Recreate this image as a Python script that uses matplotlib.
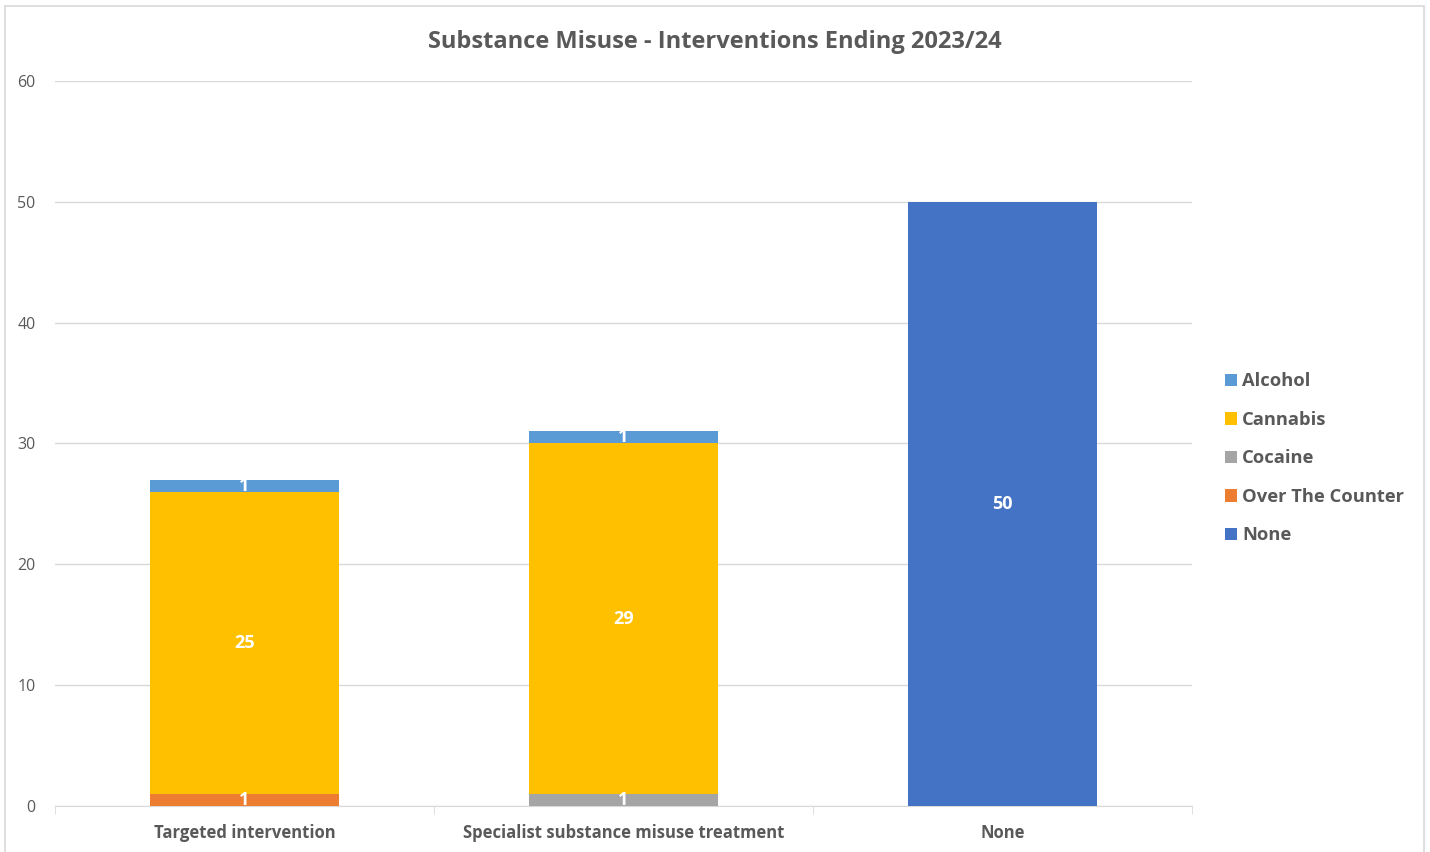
import numpy as np
import matplotlib.pyplot as plt
from matplotlib.patches import Rectangle

# categories and stacked series (bottom to top)
categories = ['Targeted intervention', 'Specialist substance misuse treatment', 'None']
none_vals = [0, 0, 50]
otc_vals = [1, 0, 0]
cocaine_vals = [0, 1, 0]
cannabis_vals = [25, 29, 0]
alcohol_vals = [1, 1, 0]

series = [
    ('None', none_vals, '#4472C4'),
    ('Over The Counter', otc_vals, '#ED7D31'),
    ('Cocaine', cocaine_vals, '#A5A5A5'),
    ('Cannabis', cannabis_vals, '#FFC000'),
    ('Alcohol', alcohol_vals, '#5B9BD5'),
]

plt.rcParams['font.family'] = ['Open Sans', 'DejaVu Sans']
txt = '#595959'

fig = plt.figure(figsize=(14.3, 8.52), dpi=100)
ax = fig.add_axes([0.0385, 0.054, 0.7951, 0.851])

# outer chart border
fig.patches.append(Rectangle((0.0035, -0.01), 0.9925, 1.003, transform=fig.transFigure,
                             fill=False, edgecolor='#d9d9d9', linewidth=1.2))

x = np.arange(len(categories))
bottom = np.zeros(len(categories))
for name, vals, col in series:
    vals = np.array(vals, dtype=float)
    bars = ax.bar(x, vals, 0.5, bottom=bottom, color=col, label=name, zorder=3)
    for xi, v, b in zip(x, vals, bottom):
        if v > 0:
            ax.text(xi, b + v / 2, f'{int(v)}', ha='center', va='center', color='white',
                    fontsize=13, fontweight='bold', zorder=4)
    bottom += vals

ax.set_xlim(-0.5, 2.5)
ax.set_ylim(0, 60)
ax.set_yticks(range(0, 61, 10))
ax.yaxis.grid(True, color='#d9d9d9', linewidth=1)
ax.set_axisbelow(True)
for s in ['top', 'right', 'left']:
    ax.spines[s].set_visible(False)
ax.spines['bottom'].set_color('#d9d9d9')
ax.tick_params(axis='y', length=0, labelsize=11.5, labelcolor=txt, pad=14)
ax.set_xticks(x)
ax.set_xticklabels(categories, fontsize=12, fontweight='bold', color=txt)
ax.tick_params(axis='x', length=0, pad=13)
# category separators
ax.set_xticks([-0.5, 0.5, 1.5, 2.5], minor=True)
ax.tick_params(axis='x', which='minor', length=6, color='#d9d9d9')

fig.text(0.5, 0.951, 'Substance Misuse - Interventions Ending 2023/24', ha='center', va='center',
         fontsize=17, fontweight='bold', color=txt)

handles, labels = ax.get_legend_handles_labels()
leg = fig.legend(handles[::-1], labels[::-1], loc='center left', bbox_to_anchor=(0.845, 0.462),
                 frameon=False, fontsize=13.2, handlelength=0.65, handleheight=0.65,
                 handletextpad=0.3, labelspacing=1.12)
for t in leg.get_texts():
    t.set_color(txt)
    t.set_fontweight('bold')

fig.savefig('out.png', dpi=100)
